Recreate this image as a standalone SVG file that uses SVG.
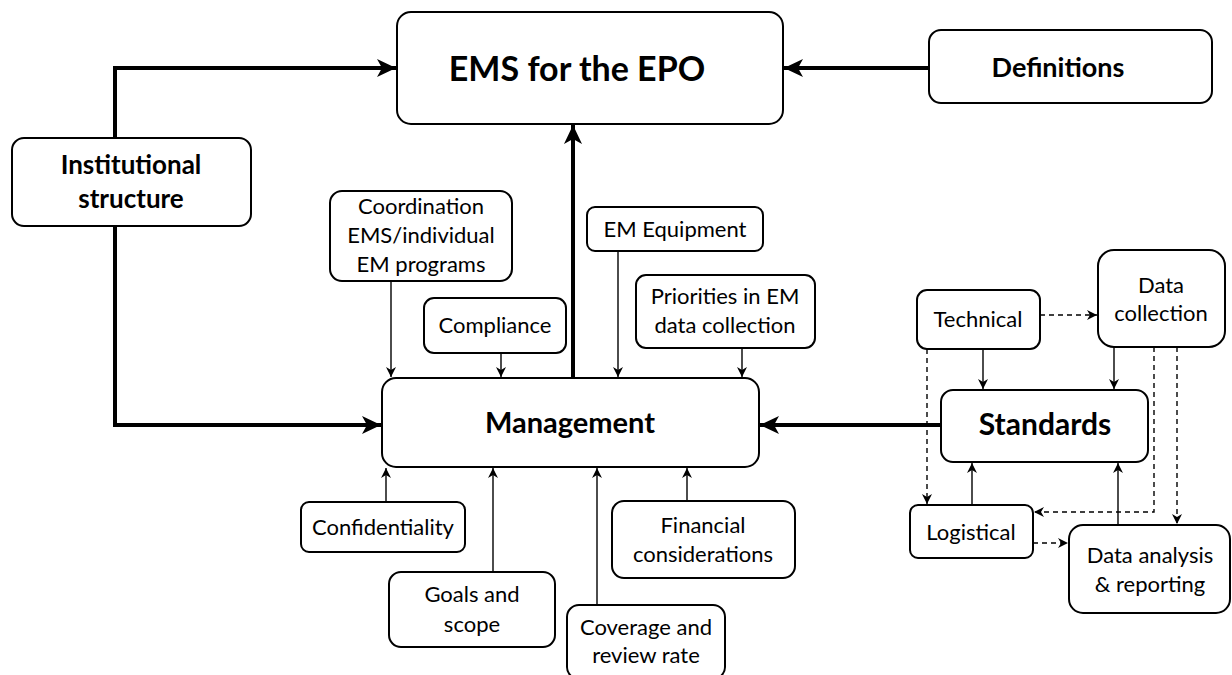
<svg xmlns="http://www.w3.org/2000/svg" width="1232" height="675" viewBox="0 0 1232 675">
<style>
.box{fill:#fff;stroke:#000;stroke-width:2}
.t{font-family:Lato,"Liberation Sans",sans-serif;font-size:22px;fill:#000;text-anchor:middle}
.b{font-weight:bold}
.thick{fill:none;stroke:#000;stroke-width:4;marker-end:url(#ah)}
.thin{fill:none;stroke:#000;stroke-width:1.4;marker-end:url(#as)}
.dash{fill:none;stroke:#000;stroke-width:1.4;stroke-dasharray:5,4;marker-end:url(#as)}
</style>
<defs>
<marker id="ah" markerUnits="userSpaceOnUse" viewBox="0 0 20 20" markerWidth="20" markerHeight="20" refX="19" refY="10" orient="auto"><path d="M0,1 L19,10 L0,19 L5,10 z" fill="#000"/></marker>
<marker id="as" markerUnits="userSpaceOnUse" viewBox="0 0 10 10" markerWidth="10" markerHeight="10" refX="10" refY="5" orient="auto"><path d="M0,0 L10,5 L0,10 L3,5 z" fill="#000"/></marker>
</defs>
<g id="connectors">
<path class="thick" d="M115,138 V68 H396"/>
<path class="thick" d="M115,226 V425 H381"/>
<path class="thick" d="M573,377 V125"/>
<path class="thick" d="M929,68 H784"/>
<path class="thick" d="M941,425 H760"/>
<path class="thin" d="M391,281 V377"/>
<path class="thin" d="M501,353 V377"/>
<path class="thin" d="M618,251 V377"/>
<path class="thin" d="M742,348 V377"/>
<path class="thin" d="M386,502 V468"/>
<path class="thin" d="M493,572 V468"/>
<path class="thin" d="M597,605 V468"/>
<path class="thin" d="M687,501 V468"/>
<path class="thin" d="M983,349 V389"/>
<path class="thin" d="M1114,347 V389"/>
<path class="thin" d="M972,505 V463"/>
<path class="thin" d="M1118,525 V463"/>
<path class="dash" d="M1040,315 H1097"/>
<path class="dash" d="M927,349 V504"/>
<path class="dash" d="M1154,347 V512 H1034"/>
<path class="dash" d="M1177,347 V524"/>
<path class="dash" d="M1033,543 H1068"/>
</g>
<g id="ems"><rect class="box" x="397" y="12" width="386" height="112" rx="14"/><text class="t b" x="577" y="81" style="font-size:34px">EMS for the EPO</text></g>
<g id="definitions"><rect class="box" x="929" y="30" width="283" height="73" rx="12"/><text class="t b" x="1058" y="77" style="font-size:27px">Definitions</text></g>
<g id="institutional"><rect class="box" x="12" y="138" width="239" height="88" rx="12"/><text class="t b" x="131" y="174" style="font-size:26px">Institutional</text><text class="t b" x="131" y="208" style="font-size:26px">structure</text></g>
<g id="management"><rect class="box" x="382" y="378" width="377" height="89" rx="14"/><text class="t b" x="570" y="433" style="font-size:29px">Management</text></g>
<g id="coordination"><rect class="box" x="330" y="191" width="182" height="90" rx="12"/><text class="t" x="421" y="214">Coordination</text><text class="t" x="421" y="243">EMS/individual</text><text class="t" x="421" y="272">EM programs</text></g>
<g id="compliance"><rect class="box" x="424" y="298" width="142" height="55" rx="10"/><text class="t" x="495" y="333">Compliance</text></g>
<g id="equipment"><rect class="box" x="587" y="207" width="176" height="44" rx="8"/><text class="t" x="675" y="237">EM Equipment</text></g>
<g id="priorities"><rect class="box" x="636" y="275" width="179" height="73" rx="10"/><text class="t" x="725" y="304">Priorities in EM</text><text class="t" x="725" y="333">data collection</text></g>
<g id="confidentiality"><rect class="box" x="301" y="502" width="164" height="50" rx="8"/><text class="t" x="383" y="535">Confidentiality</text></g>
<g id="goals"><rect class="box" x="389" y="572" width="166" height="75" rx="12"/><text class="t" x="472" y="602">Goals and</text><text class="t" x="472" y="632">scope</text></g>
<g id="coverage"><rect class="box" x="567" y="605" width="158" height="74" rx="12"/><text class="t" x="646" y="635">Coverage and</text><text class="t" x="646" y="663">review rate</text></g>
<g id="financial"><rect class="box" x="612" y="501" width="183" height="77" rx="12"/><text class="t" x="703" y="533">Financial</text><text class="t" x="703" y="562">considerations</text></g>
<g id="technical"><rect class="box" x="917" y="290" width="123" height="59" rx="10"/><text class="t" x="978" y="327">Technical</text></g>
<g id="datacollection"><rect class="box" x="1098" y="250" width="127" height="97" rx="16"/><text class="t" x="1161" y="293">Data</text><text class="t" x="1161" y="321">collection</text></g>
<g id="standards"><rect class="box" x="941" y="390" width="207" height="72" rx="12"/><text class="t b" x="1045" y="435" style="font-size:30px">Standards</text></g>
<g id="logistical"><rect class="box" x="910" y="505" width="123" height="53" rx="8"/><text class="t" x="971" y="540">Logistical</text></g>
<g id="dataanalysis"><rect class="box" x="1069" y="525" width="161" height="88" rx="14"/><text class="t" x="1150" y="563">Data analysis</text><text class="t" x="1150" y="592">&amp; reporting</text></g>
</svg>
